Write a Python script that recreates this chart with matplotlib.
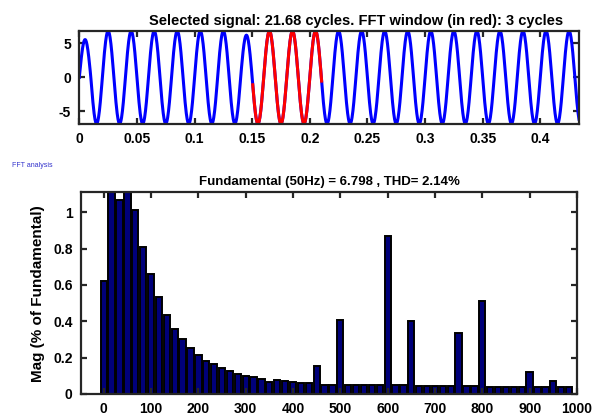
import matplotlib.pyplot as plt
import numpy as np
from matplotlib import font_manager

# --- top panel: selected signal, 50 Hz, 21.68 cycles ---
F0 = 50.0
N_CYCLES = 21.68
# peak value of each half cycle
HALF_PEAKS = [5.55, -6.8, 6.8, -6.8, 6.8, -6.8, 6.8, -6.8, 6.8, -6.8,
              6.8, -6.8, 6.8, -6.8, 6.2, -6.8, 6.8, -6.8, 6.8, -6.8,
              6.8, -6.8, 6.8, -6.8, 6.8, -6.8, 6.8, -6.8, 6.8, -6.8,
              6.8, -6.8, 6.8, -6.8, 6.8, -6.8, 6.8, -6.8, 6.8, -6.8,
              6.8, -6.8, 6.8, -6.8]
WIN_START = 0.1505   # FFT window (red), 3 cycles
WIN_CYCLES = 3
TOP_XTICKS = [0, 0.05, 0.1, 0.15, 0.2, 0.25, 0.3, 0.35, 0.4]
TOP_XLABELS = ['0', '0.05', '0.1', '0.15', '0.2', '0.25', '0.3', '0.35', '0.4']
TOP_YTICKS = [-5, 0, 5]

# --- bottom panel: FFT magnitudes, bin spacing 50/3 Hz ---
FREQ_RES = 50.0 / 3
MAG = [0.62, 1.25, 1.07, 100.0, 1.01, 0.81, 0.66, 0.535, 0.437, 0.36,
       0.30, 0.252, 0.214, 0.184, 0.164, 0.142, 0.125, 0.112, 0.101, 0.092,
       0.083, 0.068, 0.075, 0.070, 0.064, 0.059, 0.059, 0.155, 0.051, 0.051,
       0.408, 0.05, 0.05, 0.05, 0.05, 0.05, 0.867, 0.048, 0.048, 0.404,
       0.045, 0.045, 0.045, 0.045, 0.045, 0.338, 0.045, 0.045, 0.514, 0.04,
       0.04, 0.04, 0.04, 0.04, 0.123, 0.04, 0.04, 0.073, 0.04, 0.04]
BOT_XTICKS = [0, 100, 200, 300, 400, 500, 600, 700, 800, 900, 1000]
BOT_YTICKS = [0, 0.2, 0.4, 0.6, 0.8, 1]
BOT_YLABELS = ['0', '0.2', '0.4', '0.6', '0.8', '1']

# narrow font if there is one, else Arial-like Liberation Sans
_names = {f.name for f in font_manager.fontManager.ttflist}
if 'Liberation Sans Narrow' in _names:
    NARROW, TSIZE, TITLE, TITLE2 = 'Liberation Sans Narrow', 10, 11.5, 11
else:
    NARROW, TSIZE, TITLE, TITLE2 = 'Liberation Sans', 10, 10.5, 9.5
SPINE = '#262626'


def build_signal():
    # each half cycle drawn as a half sine with the amplitude read above
    half = 1.0 / F0 / 2
    t_end = N_CYCLES / F0
    t_all, y_all = [], []
    for k, pk in enumerate(HALF_PEAKS):
        t = np.linspace(k * half, (k + 1) * half, 40)
        t = t[t <= t_end]
        y = abs(pk) * np.sin(2 * np.pi * F0 * t)
        t_all.append(t)
        y_all.append(y)
    return np.concatenate(t_all), np.concatenate(y_all)


def style_axes(ax):
    for s in ax.spines.values():
        s.set_linewidth(1.6)
        s.set_color(SPINE)
    ax.tick_params(direction='in', top=True, right=True, length=4,
                   width=1.6, color=SPINE, labelsize=TSIZE, pad=6)
    for lab in ax.get_xticklabels() + ax.get_yticklabels():
        lab.set_fontfamily(NARROW)
        lab.set_fontweight('bold')


fig = plt.figure(figsize=(5.95, 4.19), dpi=100)

# top panel
ax1 = fig.add_axes([0.1333, 0.704, 0.8398, 0.2227])
t, y = build_signal()
ax1.plot(t, y, color='blue', lw=2.2)
red = (t >= WIN_START) & (t <= WIN_START + WIN_CYCLES / F0)
ax1.plot(t[red], y[red], color='red', lw=2.2)
ax1.set_xlim(0, N_CYCLES / F0)
ax1.set_ylim(-6.85, 6.85)
ax1.set_xticks(TOP_XTICKS)
ax1.set_xticklabels(TOP_XLABELS)
ax1.set_yticks(TOP_YTICKS)
ax1.set_yticklabels([str(v) for v in TOP_YTICKS])
style_axes(ax1)
ax1.set_title('Selected signal: 21.68 cycles. FFT window (in red): 3 cycles',
              fontfamily=NARROW, fontweight='bold', fontsize=TITLE, pad=4,
              x=0.554)

# bottom panel
ax2 = fig.add_axes([0.1361, 0.0597, 0.8336, 0.4813])
freqs = np.arange(len(MAG)) * FREQ_RES
ax2.bar(freqs, MAG, width=0.8 * FREQ_RES, color='#00007a',
        edgecolor='black', linewidth=1.4)
ax2.set_xlim(-48, 1000)
ax2.set_ylim(0, 1.11)
ax2.set_xticks(BOT_XTICKS)
ax2.set_xticklabels([str(v) for v in BOT_XTICKS])
ax2.set_yticks(BOT_YTICKS)
ax2.set_yticklabels(BOT_YLABELS)
style_axes(ax2)
ax2.set_title('Fundamental (50Hz) = 6.798 , THD= 2.14%',
              fontfamily=NARROW, fontweight='bold', fontsize=TITLE2, pad=5)
ax2.set_ylabel('Mag (% of Fundamental)', fontfamily='Liberation Sans',
               fontweight='bold', fontsize=11, labelpad=6)

fig.text(0.021, 0.606, 'FFT analysis', fontfamily=NARROW, fontsize=5,
         color='#3333cc', va='center')

fig.savefig('out.png', dpi=100)
